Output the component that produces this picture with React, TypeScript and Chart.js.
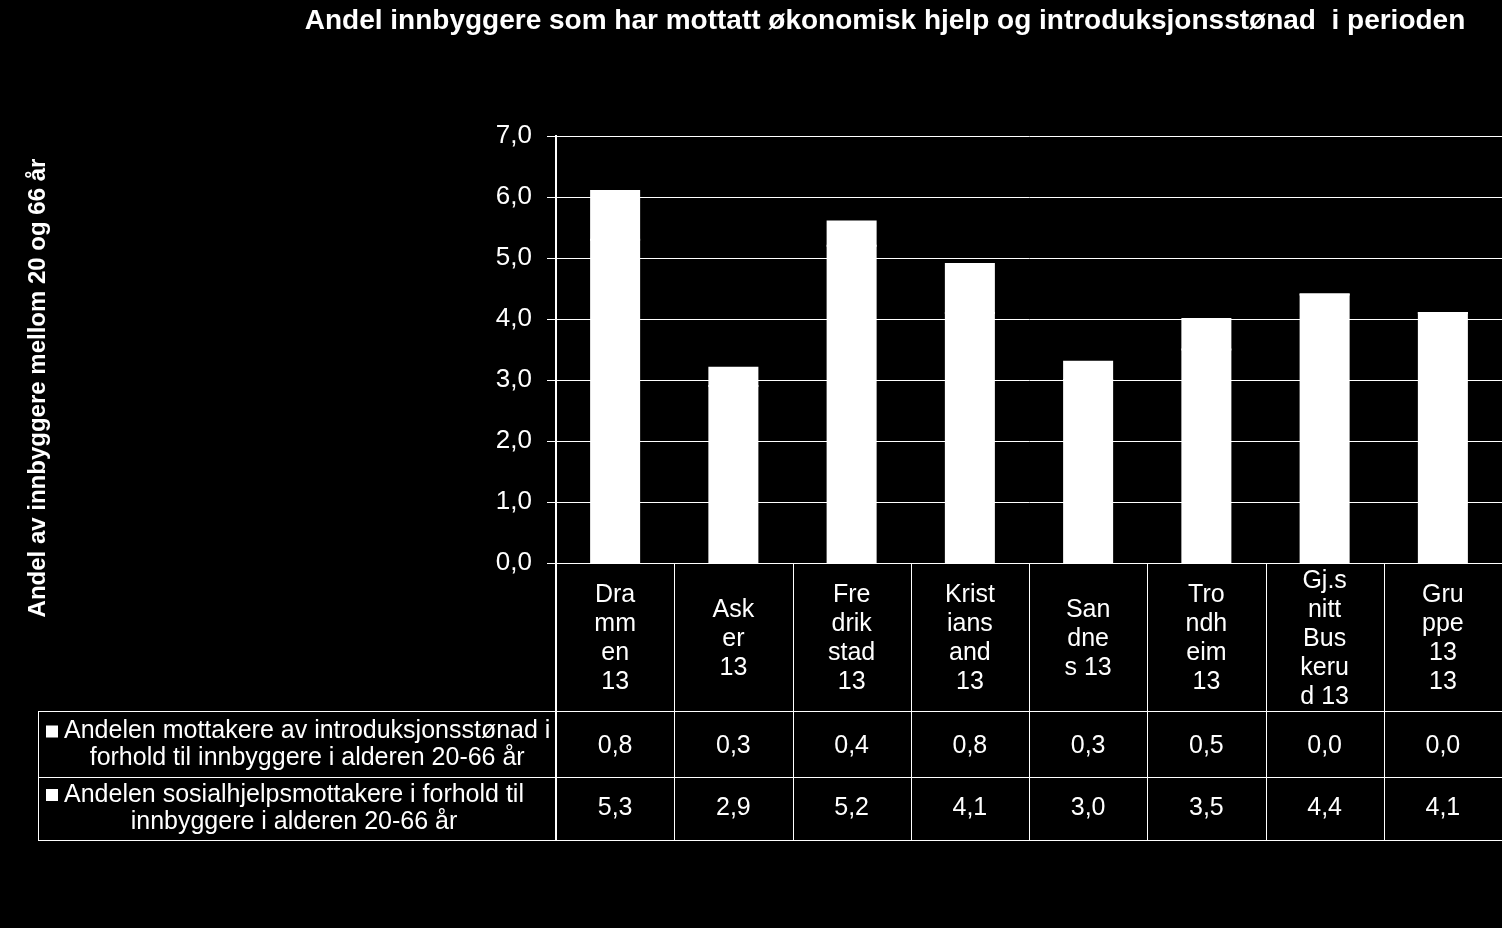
import React, { useEffect, useRef } from 'react';
import { Chart, registerables } from 'chart.js';

Chart.register(...registerables);

const chartTitle = 'Andel innbyggere som har mottatt økonomisk hjelp og introduksjonsstønad  i perioden';
const yAxisTitle = 'Andel av innbyggere mellom 20 og 66 år';

const categories = [
  'Drammen 13',
  'Asker 13',
  'Fredrikstad 13',
  'Kristiansand 13',
  'Sandnes 13',
  'Trondheim 13',
  'Gj.snitt Buskerud 13',
  'Gruppe 13 13',
];

const categoryLabelLines = [
  ['Dra', 'mm', 'en', '13'],
  ['Ask', 'er', '13'],
  ['Fre', 'drik', 'stad', '13'],
  ['Krist', 'ians', 'and', '13'],
  ['San', 'dne', 's 13'],
  ['Tro', 'ndh', 'eim', '13'],
  ['Gj.s', 'nitt', 'Bus', 'keru', 'd 13'],
  ['Gru', 'ppe', '13', '13'],
];

const introLabelLines = ['Andelen mottakere av introduksjonsstønad i', 'forhold til innbyggere i alderen 20-66 år'];
const sosialLabelLines = ['Andelen sosialhjelpsmottakere i forhold til', 'innbyggere i alderen 20-66 år'];

const introValues = [0.8, 0.3, 0.4, 0.8, 0.3, 0.5, 0.0, 0.0];
const sosialValues = [5.3, 2.9, 5.2, 4.1, 3.0, 3.5, 4.4, 4.1];

const yMin = 0;
const yMax = 7;
const yStep = 1;

const FONT = "'Liberation Sans', Arial, sans-serif";
const fmt = (v: number) => v.toFixed(1).replace('.', ',');

const tablePlugin = {
  id: 'dataTable',
  afterDraw(chart: any) {
    const ctx: CanvasRenderingContext2D = chart.ctx;
    const xs = chart.scales.x;
    const area = chart.chartArea;
    const n = categories.length;
    const centers = categories.map((_, i) => xs.getPixelForValue(i));
    const half = (centers[1] - centers[0]) / 2;
    const bounds = [centers[0] - half, ...centers.map((c: number) => c + half)];

    const top = area.bottom;
    const headBottom = top + 148;
    const row1Bottom = headBottom + 66;
    const row2Bottom = row1Bottom + 63;
    const legendLeft = 38;

    ctx.save();
    ctx.strokeStyle = '#ffffff';
    ctx.lineWidth = 1;
    const hline = (x1: number, x2: number, y: number) => {
      ctx.beginPath();
      ctx.moveTo(x1, Math.round(y) + 0.5);
      ctx.lineTo(x2, Math.round(y) + 0.5);
      ctx.stroke();
    };
    const vline = (x: number, y1: number, y2: number, w = 1) => {
      ctx.lineWidth = w;
      ctx.beginPath();
      const xx = w % 2 === 1 ? Math.round(x) + 0.5 : Math.round(x);
      ctx.moveTo(xx, y1);
      ctx.lineTo(xx, y2);
      ctx.stroke();
      ctx.lineWidth = 1;
    };

    hline(legendLeft, bounds[n], headBottom);
    hline(legendLeft, bounds[n], row1Bottom);
    hline(legendLeft, bounds[n], row2Bottom);
    vline(legendLeft, headBottom, row2Bottom + 0.5);
    vline(bounds[0], top, row2Bottom + 1, 2);
    for (let i = 1; i <= n; i++) vline(bounds[i], top, row2Bottom + 0.5);

    ctx.fillStyle = '#ffffff';
    ctx.font = `25px ${FONT}`;
    ctx.textAlign = 'center';
    ctx.textBaseline = 'middle';
    const lh = 29;
    const headMid = (top + headBottom) / 2;
    categoryLabelLines.forEach((lines, i) => {
      const k = lines.length;
      lines.forEach((line, j) => {
        ctx.fillText(line, centers[i], headMid + (j - (k - 1) / 2) * lh + 2);
      });
    });

    const r1Mid = (headBottom + row1Bottom) / 2;
    const r2Mid = (row1Bottom + row2Bottom) / 2 - 1;
    introValues.forEach((v, i) => ctx.fillText(fmt(v), centers[i], r1Mid + 2));
    sosialValues.forEach((v, i) => ctx.fillText(fmt(v), centers[i], r2Mid + 1));

    const drawLegendCell = (lines: string[], mid: number) => {
      const textX = 64;
      const y1 = mid - 13.5;
      const y2 = mid + 13.5;
      ctx.fillRect(46, y1 - 6, 12, 12);
      ctx.textAlign = 'left';
      ctx.fillText(lines[0], textX, y1);
      const w = ctx.measureText(lines[0]).width;
      ctx.textAlign = 'center';
      ctx.fillText(lines[1], textX + w / 2, y2);
    };
    drawLegendCell(introLabelLines, r1Mid + 1);
    drawLegendCell(sosialLabelLines, r2Mid + 1);

    // chart title
    ctx.font = `bold 28px ${FONT}`;
    ctx.textAlign = 'center';
    ctx.textBaseline = 'alphabetic';
    ctx.fillText(chartTitle, 885, 29);

    // y-axis title
    ctx.save();
    ctx.translate(45, 388);
    ctx.rotate(-Math.PI / 2);
    ctx.font = `bold 24px ${FONT}`;
    ctx.textAlign = 'center';
    ctx.textBaseline = 'alphabetic';
    ctx.fillText(yAxisTitle, 0, 0);
    ctx.restore();

    ctx.restore();
  },
};

export default function App() {
  const ref = useRef<HTMLCanvasElement | null>(null);

  useEffect(() => {
    document.body.style.margin = '0';
    document.body.style.background = '#000';
    const canvas = ref.current;
    if (!canvas) return;
    const chart = new Chart(canvas, {
      type: 'bar',
      data: {
        labels: categories,
        datasets: [
          {
            label: sosialLabelLines.join(' '),
            data: sosialValues,
            backgroundColor: '#ffffff',
            borderWidth: 0,
            inflateAmount: 1,
            barPercentage: 0.406,
            categoryPercentage: 1,
          },
          {
            label: introLabelLines.join(' '),
            data: introValues,
            backgroundColor: '#ffffff',
            borderWidth: 0,
            inflateAmount: 1,
            barPercentage: 0.406,
            categoryPercentage: 1,
          },
        ],
      },
      options: {
        animation: false,
        responsive: false,
        maintainAspectRatio: false,
        layout: { padding: { left: 0, top: 136, right: 0, bottom: 365 } },
        plugins: {
          legend: { display: false },
          title: { display: false },
          tooltip: { enabled: false },
        },
        scales: {
          x: {
            stacked: true,
            display: false,
          },
          y: {
            stacked: true,
            min: yMin,
            max: yMax,
            afterFit: (scale: any) => {
              scale.width = 556;
            },
            border: { display: true, color: '#ffffff', width: 2 },
            grid: {
              color: '#ffffff',
              lineWidth: 1,
              tickLength: 9,
              drawTicks: true,
            },
            ticks: {
              stepSize: yStep,
              color: '#ffffff',
              padding: 15,
              font: { family: FONT, size: 26 },
              callback: (v: any) => fmt(Number(v)),
            },
          },
        },
      },
      plugins: [tablePlugin],
    });
    return () => chart.destroy();
  }, []);

  return (
    <div style={{ width: 1502, height: 928, background: '#000' }}>
      <canvas ref={ref} width={1502} height={928} style={{ display: 'block', width: 1502, height: 928 }} />
    </div>
  );
}
